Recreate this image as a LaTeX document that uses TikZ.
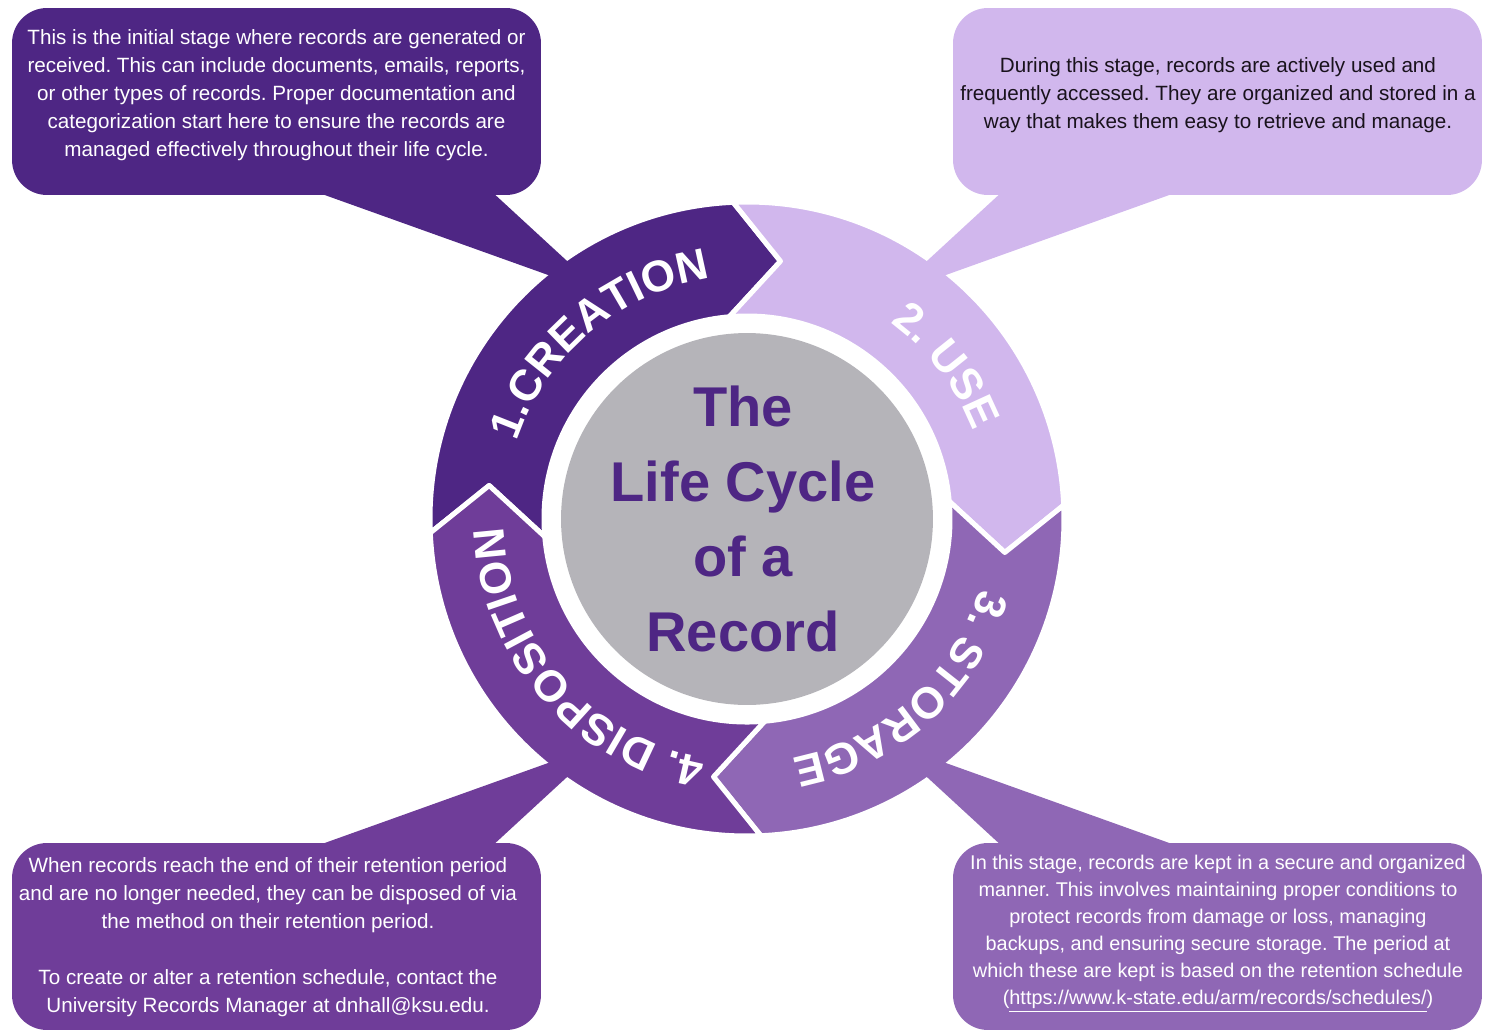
\documentclass[tikz,border=0pt]{standalone}
\usepackage{fontspec}
\setmainfont{Liberation Sans}
\usetikzlibrary{positioning,calc,decorations.text}

\definecolor{creationcol}{RGB}{78,38,132}
\definecolor{usecol}{RGB}{209,183,237}
\definecolor{storagecol}{RGB}{143,103,181}
\definecolor{disposecol}{RGB}{111,61,153}
\definecolor{hubgray}{RGB}{181,180,185}
\definecolor{darktext}{RGB}{25,18,28}

% one arrow-shaped piece of the ring: colour, trailing angle, leading angle
\newcommand{\ringseg}[3]{%
  \path[segment,fill=#1] (#2+2.5:317) arc[start angle=#2+2.5,end angle=#3+2.5,radius=317]
    -- (#3-7.4:260) -- (#3+5:203) arc[start angle=#3+5,end angle=#2+5,radius=203]
    -- (#2-7.4:260) -- cycle;}

% white label bent along the ring
\newcommand{\ringlabel}[3]{%
  \path[decorate,decoration={text along path,text align=center,text color=white,
    text={|\bfseries\fontsize{25}{25}\selectfont|#1}}]
    (#2:243) arc[start angle=#2,end angle=#3,radius=243];}

\begin{document}
\frenchspacing
\begin{tikzpicture}[x=0.02cm,y=0.02cm,
    callout/.style={rectangle,rounded corners=0.7cm,minimum width=10.58cm,minimum height=3.74cm,inner sep=0pt},
    blurb/.style={align=center,inner sep=0pt,font=\fontsize{11.75}{15.9}\selectfont},
    segment/.style={draw=white,line width=0.1cm,line join=round}]

    \useasboundingbox (-747,-513) rectangle (747,519);

    % speech boxes
    \node[callout,fill=creationcol] (creationbox) at (-470.5,417.5) {};
    \node[callout,fill=usecol] (usebox) at (470.5,417.5) {};
    \node[callout,fill=storagecol] (storagebox) at (470.5,-417.5) {};
    \node[callout,fill=disposecol] (disposebox) at (-470.5,-417.5) {};

    % the cycle
    \ringseg{creationcol}{180}{90}
    \ringseg{usecol}{90}{0}
    \ringseg{storagecol}{0}{-90}
    \ringseg{disposecol}{-90}{-180}

    % tails of the speech boxes
    \fill[creationcol] (-467,340) -- (-269,340) -- (-143,224) -- cycle;
    \fill[usecol] (467,340) -- (269,340) -- (143,224) -- cycle;
    \fill[storagecol] (467,-340) -- (269,-340) -- (143,-224) -- cycle;
    \fill[disposecol] (-467,-340) -- (-269,-340) -- (-143,-224) -- cycle;

    % centre
    \node[circle,fill=hubgray,minimum size=7.44cm,inner sep=0pt] (hub) at (0,0) {};
    \node[align=center,text=creationcol,font=\bfseries\fontsize{31.9}{42.7}\selectfont] (title) at (-4,0)
        {The\\Life Cycle\\of a\\Record};

    \ringlabel{1.CREATION}{175}{85}
    \ringlabel{2. USE}{82.5}{-7.5}
    \ringlabel{3. STORAGE}{-3}{-93}
    \ringlabel{4. DISPOSITION}{-94}{-184}

    % texts
    \node[blurb,text=white] (creationtxt) at (-470.5,424)
        {This is the initial stage where records are generated or\\
         received. This can include documents, emails, reports,\\
         or other types of records. Proper documentation and\\
         categorization start here to ensure the records are\\
         managed effectively throughout their life cycle.};
    \node[blurb,text=darktext] (usetxt) at (471,424)
        {During this stage, records are actively used and\\
         frequently accessed. They are organized and stored in a\\
         way that makes them easy to retrieve and manage.};
    \node[blurb,text=white,font=\fontsize{11.3}{15.4}\selectfont] (storagetxt) at (471,-414.5)
        {In this stage, records are kept in a secure and organized\\
         manner. This involves maintaining proper conditions to\\
         protect records from damage or loss, managing\\
         backups, and ensuring secure storage. The period at\\
         which these are kept is based on the retention schedule\\
         (\underline{https://www.k-state.edu/arm/records/schedules/})};
    \node[blurb,text=white] (disposetxt) at (-479,-418)
        {When records reach the end of their retention period\\
         and are no longer needed, they can be disposed of via\\
         the method on their retention period.\\[15.9pt]
         To create or alter a retention schedule, contact the\\
         University Records Manager at dnhall@ksu.edu.};
\end{tikzpicture}
\end{document}
